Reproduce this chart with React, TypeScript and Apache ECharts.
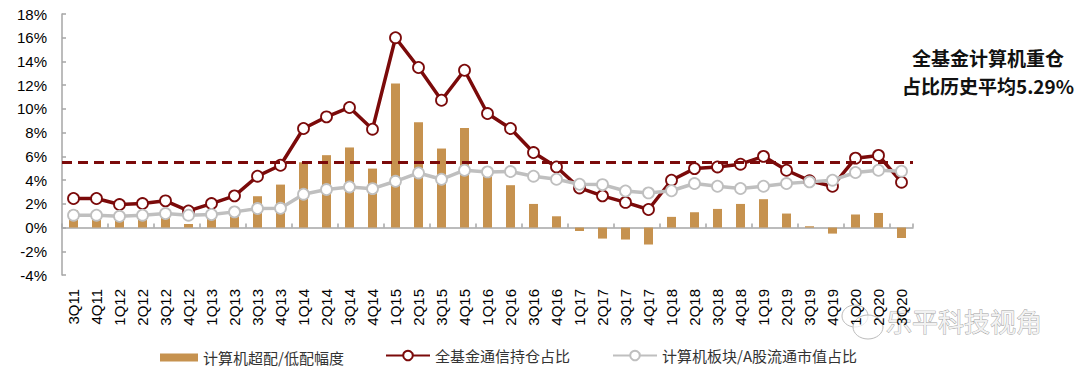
import React, { useEffect, useRef } from "react";
import * as echarts from "echarts";

const categories = [
  "3Q11", "4Q11", "1Q12", "2Q12", "3Q12", "4Q12", "1Q13", "2Q13", "3Q13", "4Q13",
  "1Q14", "2Q14", "3Q14", "4Q14", "1Q15", "2Q15", "3Q15", "4Q15", "1Q16", "2Q16",
  "3Q16", "4Q16", "1Q17", "2Q17", "3Q17", "4Q17", "1Q18", "2Q18", "3Q18", "4Q18",
  "1Q19", "2Q19", "3Q19", "4Q19", "1Q20", "2Q20", "3Q20",
];

const overUnder = [
  1.45, 1.3, 1.05, 1.1, 1.0, 0.3, 1.1, 1.6, 2.64, 3.62,
  5.5, 6.1, 6.75, 4.97, 12.14, 8.88, 6.66, 8.4, 4.6, 3.57,
  1.99, 0.95, -0.29, -0.93, -1.01, -1.43, 0.9, 1.29, 1.57, 1.99,
  2.39, 1.18, 0.11, -0.51, 1.1, 1.23, -0.88,
];

const fundHolding = [
  2.45, 2.45, 1.94, 2.02, 2.25, 1.4, 2.02, 2.67, 4.33, 5.25,
  8.35, 9.33, 10.12, 8.29, 16.0, 13.49, 10.73, 13.26, 9.61, 8.35,
  6.32, 5.11, 3.34, 2.67, 2.12, 1.52, 3.99, 4.97, 5.11, 5.34,
  6.0, 4.83, 3.95, 3.48, 5.85, 6.08, 3.82,
];

const marketShare = [
  1.04, 1.04, 0.95, 1.04, 1.18, 1.04, 1.1, 1.32, 1.6, 1.62,
  2.81, 3.2, 3.42, 3.28, 3.9, 4.6, 4.07, 4.83, 4.69, 4.72,
  4.33, 4.07, 3.65, 3.62, 3.08, 2.92, 3.1, 3.71, 3.48, 3.29,
  3.48, 3.71, 3.85, 3.99, 4.64, 4.83, 4.75,
];

const averageLine = 5.5;
const seriesNames = ["计算机超配/低配幅度", "全基金通信持仓占比", "计算机板块/A股流通市值占比"];
const annotation = ["全基金计算机重仓", "占比历史平均5.29%"];
const watermark = "乐平科技视角";

const BAR = "#C6924F";
const RED = "#7B0A0A";
const GRAY = "#BFBFBF";
const AXIS = "#A6A6A6";
const LATIN = "Arial, 'Liberation Sans', sans-serif";
const CJK = "'Noto Sans CJK SC', sans-serif";

export default function App() {
  const ref = useRef<HTMLDivElement>(null);
  useEffect(() => {
    if (!ref.current) return;
    const chart = echarts.init(ref.current, undefined, { renderer: "svg" });
    const legendText = { color: "#333", fontSize: 15, fontFamily: CJK };
    chart.setOption({
      animation: false,
      grid: { left: 62, right: 167, top: 14, bottom: 95, containLabel: false },
      legend: [
        {
          data: [seriesNames[0]], left: 155, top: 345, icon: "rect",
          itemWidth: 38, itemHeight: 8, textStyle: legendText,
        },
        {
          data: [seriesNames[1]], left: 380, top: 343,
          itemWidth: 44, itemHeight: 12, textStyle: legendText,
        },
        {
          data: [seriesNames[2]], left: 607, top: 343,
          itemWidth: 44, itemHeight: 12, textStyle: legendText,
        },
      ],
      xAxis: [
        {
          type: "category",
          data: categories,
          position: "bottom",
          axisLine: { show: true, onZero: true, lineStyle: { color: AXIS, width: 1.5 } },
          axisTick: { show: true, inside: true, length: 4, lineStyle: { color: AXIS, width: 1.5 } },
          axisLabel: { show: false },
          splitLine: { show: false },
        },
        {
          type: "category",
          data: categories,
          position: "bottom",
          axisLine: { show: false, onZero: false },
          axisTick: { show: false },
          axisLabel: {
            show: true, interval: 0, rotate: 90, margin: 14,
            fontSize: 15, fontFamily: LATIN, color: "#000",
          },
          splitLine: { show: false },
        },
      ],
      yAxis: {
        type: "value",
        min: -4,
        max: 18,
        interval: 2,
        axisLine: { show: true, lineStyle: { color: AXIS, width: 1.5 } },
        axisTick: { show: true, inside: true, length: 4, lineStyle: { color: AXIS, width: 1.5 } },
        axisLabel: { formatter: "{value}%", margin: 15, fontSize: 15, fontFamily: LATIN, color: "#000" },
        splitLine: { show: false },
      },
      series: [
        {
          name: seriesNames[0],
          type: "bar",
          xAxisIndex: 0,
          data: overUnder,
          barWidth: 9,
          itemStyle: { color: BAR },
          markLine: {
            silent: true,
            symbol: "none",
            label: { show: false },
            lineStyle: { color: RED, width: 3, type: [10, 6] },
            data: [{ yAxis: averageLine }],
          },
        },
        {
          name: seriesNames[1],
          type: "line",
          xAxisIndex: 0,
          data: fundHolding,
          symbol: "circle",
          symbolSize: 11,
          lineStyle: { color: RED, width: 3.5 },
          itemStyle: { color: "#fff", borderColor: RED, borderWidth: 1.8 },
        },
        {
          name: seriesNames[2],
          type: "line",
          xAxisIndex: 0,
          data: marketShare,
          symbol: "circle",
          symbolSize: 11,
          lineStyle: { color: GRAY, width: 3.5 },
          itemStyle: { color: "#fff", borderColor: GRAY, borderWidth: 1.8 },
        },
      ],
      graphic: [
        {
          type: "text",
          x: 988,
          y: 57,
          style: {
            text: annotation[0], fill: "#111", font: `bold 19px ${CJK}`,
            textAlign: "center", textVerticalAlign: "middle",
          },
        },
        {
          type: "text",
          x: 988,
          y: 85,
          style: {
            text: annotation[1], fill: "#111", font: `bold 19px ${CJK}`,
            textAlign: "center", textVerticalAlign: "middle",
          },
        },
        {
          type: "ellipse",
          shape: { cx: 855, cy: 316, rx: 13, ry: 11 },
          style: { fill: "rgba(255,255,255,0.6)", stroke: "#BBB", lineWidth: 1 },
        },
        {
          type: "ellipse",
          shape: { cx: 868, cy: 327, rx: 15, ry: 12 },
          style: { fill: "rgba(255,255,255,0.7)", stroke: "#BBB", lineWidth: 1 },
        },
        {
          type: "text",
          x: 886,
          y: 320,
          style: {
            text: watermark, fill: "#F2F2F2", stroke: "#9A9A9A", lineWidth: 0.8,
            font: `26px ${CJK}`, textVerticalAlign: "middle",
          },
        },
      ],
    });
    return () => chart.dispose();
  }, []);
  return (
    <div
      ref={ref}
      style={{ position: "fixed", left: 0, top: 0, width: 1080, height: 370, background: "#fff" }}
    />
  );
}
